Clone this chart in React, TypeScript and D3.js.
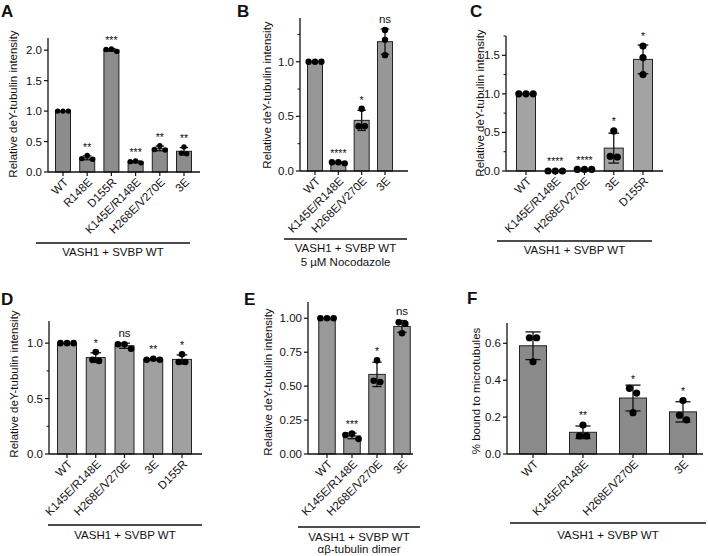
import React from "react";
import * as d3 from "d3";

// ---------- data ----------
const catsA = ["WT", "R148E", "D155R", "K145E/R148E", "H268E/V270E", "3E"];
const ptsA = [[1, 1, 1], [0.21, 0.27, 0.22], [1.98, 2.02, 2.01], [0.15, 0.17, 0.18], [0.36, 0.43, 0.37], [0.3, 0.41, 0.31]];
const sigA = ["", "**", "***", "***", "**", "**"];
const ticksA = [0, 0.5, 1, 1.5, 2];

const catsB = ["WT", "K145E/R148E", "H268E/V270E", "3E"];
const ptsB = [[1, 1, 1], [0.07, 0.08, 0.08], [0.41, 0.57, 0.41], [1.29, 1.2, 1.06]];
const sigB = ["", "****", "*", "ns"];
const ticksB = [0, 0.5, 1];
const minorB = [0.25, 0.75, 1.25];

const catsC = ["WT", "K145E/R148E", "H268E/V270E", "3E", "D155R"];
const ptsC = [[1, 1, 1], [0, 0, 0], [0.02, 0.02, 0.02], [0.52, 0.19, 0.18], [1.62, 1.47, 1.25]];
const sigC = ["", "****", "****", "*", "*"];
const ticksC = [0, 0.5, 1, 1.5];
const minorC = [0.25, 0.75, 1.25, 1.75];

const catsD = ["WT", "K145E/R148E", "H268E/V270E", "3E", "D155R"];
const ptsD = [[1, 1, 1], [0.92, 0.84, 0.85], [0.95, 0.99, 0.99], [0.85, 0.86, 0.85], [0.9, 0.83, 0.83]];
const sigD = ["", "*", "ns", "**", "*"];
const ticksD = [0, 0.5, 1];
const minorD = [0.25, 0.75];

const catsE = ["WT", "K145E/R148E", "H268E/V270E", "3E"];
const ptsE = [[1, 1, 1], [0.11, 0.14, 0.15], [0.69, 0.53, 0.54], [0.97, 0.96, 0.89]];
const sigE = ["", "***", "*", "ns"];
const ticksE = [0, 0.25, 0.5, 0.75, 1];

const catsF = ["WT", "K145E/R148E", "H268E/V270E", "3E"];
const ptsF = [[0.63, 0.63, 0.5], [0.157, 0.098, 0.098], [0.356, 0.33, 0.224], [0.29, 0.21, 0.185]];
const sigF = ["", "**", "*", "*"];
const ticksF = [0, 0.2, 0.4, 0.6];

const yTitle = "Relative deY-tubulin intensity";
const yTitleF = "% bound to microtubules";
const capMain = "VASH1 + SVBP WT";
const capB = "5 µM Nocodazole";
const capE = "αβ-tubulin dimer";

// ---------- layout ----------
type Cfg = {
  letter: string; lx: number; ly: number;
  cats: string[]; pts: number[][]; sig: string[];
  ticks: number[]; minor?: number[]; fmt: string; yMax: number;
  axisX: number; xEnd: number; y0: number; yTop: number; xRange: [number, number];
  barW: number; r: number; fill: string;
  title: string; tx: number; ty: number;
  brY: number; brX: [number, number]; caps: string[]; capY: number[];
};

const panels: Cfg[] = [
  { letter: "A", lx: 1, ly: 17, cats: catsA, pts: ptsA, sig: sigA, ticks: ticksA, fmt: ".1f", yMax: 2.2,
    axisX: 48, xEnd: 200, y0: 172, yTop: 38, xRange: [63, 184], barW: 15, r: 2.7, fill: "#8c8c8c",
    title: yTitle, tx: 17, ty: 104, brY: 243, brX: [36, 190], caps: [capMain], capY: [256] },
  { letter: "B", lx: 237, ly: 17, cats: catsB, pts: ptsB, sig: sigB, ticks: ticksB, minor: minorB, fmt: ".1f", yMax: 1.4,
    axisX: 300, xEnd: 408, y0: 171, yTop: 18, xRange: [315, 385], barW: 15, r: 3.2, fill: "#979797",
    title: yTitle, tx: 271, ty: 95, brY: 239, brX: [284, 407], caps: [capMain, capB], capY: [252, 266] },
  { letter: "C", lx: 470, ly: 17, cats: catsC, pts: ptsC, sig: sigC, ticks: ticksC, minor: minorC, fmt: ".1f", yMax: 1.75,
    axisX: 506, xEnd: 663, y0: 171, yTop: 36, xRange: [526, 643], barW: 19, r: 3.6, fill: "#a3a3a3",
    title: yTitle, tx: 484, ty: 103, brY: 241, brX: [497, 652], caps: [capMain], capY: [254] },
  { letter: "D", lx: 1, ly: 305, cats: catsD, pts: ptsD, sig: sigD, ticks: ticksD, minor: minorD, fmt: ".1f", yMax: 1.2,
    axisX: 49, xEnd: 202, y0: 454, yTop: 321, xRange: [67, 182], barW: 19, r: 3.3, fill: "#a0a0a0",
    title: yTitle, tx: 18, ty: 384, brY: 525, brX: [48, 202], caps: [capMain], capY: [539] },
  { letter: "E", lx: 244, ly: 305, cats: catsE, pts: ptsE, sig: sigE, ticks: ticksE, fmt: ".2f", yMax: 1.12,
    axisX: 308, xEnd: 413, y0: 454, yTop: 302, xRange: [327, 402], barW: 16.5, r: 3.3, fill: "#999999",
    title: yTitle, tx: 272, ty: 382, brY: 527, brX: [298, 420], caps: [capMain, capE], capY: [541, 553] },
  { letter: "F", lx: 467, ly: 304, cats: catsF, pts: ptsF, sig: sigF, ticks: ticksF, fmt: ".1f", yMax: 0.71,
    axisX: 507, xEnd: 703, y0: 454, yTop: 323, xRange: [533, 683], barW: 27, r: 3.6, fill: "#8a8a8a",
    title: yTitleF, tx: 480, ty: 391, brY: 523, brX: [510, 706], caps: [capMain], capY: [539] },
];

const FONT = "'Liberation Sans', Arial, sans-serif";

function swarm(vals: number[], y: d3.ScaleLinear<number, number>, r: number) {
  const idx = vals.map((v, i) => i).sort((a, b) => vals[b] - vals[a]);
  const clusters: number[][] = [];
  idx.forEach((i) => {
    const last = clusters[clusters.length - 1];
    if (last && Math.abs(y(vals[last[last.length - 1]]) - y(vals[i])) < 2 * r * 0.95) last.push(i);
    else clusters.push([i]);
  });
  const off = new Array(vals.length).fill(0);
  clusters.forEach((c) => {
    const n = c.length;
    if (n % 2 === 1) {
      const order = [0];
      for (let k = 1; k < n; k++) order.push(k % 2 === 1 ? -Math.ceil(k / 2) : Math.ceil(k / 2));
      c.forEach((i, k) => (off[i] = order[k] * 2 * r));
    } else {
      c.forEach((i, k) => (off[i] = (k - (n - 1) / 2) * 2 * r));
    }
  });
  return off;
}

function Panel({ c }: { c: Cfg }) {
  const y = d3.scaleLinear().domain([0, c.yMax]).range([c.y0, c.yTop]);
  const x = d3.scalePoint<string>().domain(c.cats).range(c.xRange);
  const fmt = d3.format(c.fmt);
  const stats = c.pts.map((p) => ({ mean: d3.mean(p) as number, sd: (d3.deviation(p) as number) || 0 }));
  const capX = (c.brX[0] + c.brX[1]) / 2;
  return (
    <g fontFamily={FONT} fill="#111">
      <text x={c.lx} y={c.ly} fontSize={17} fontWeight="bold">{c.letter}</text>
      {c.cats.map((cat, i) => {
        const cx = x(cat) as number;
        const h = c.y0 - y(stats[i].mean);
        return (
          <rect key={"b" + i} x={cx - c.barW / 2} y={y(stats[i].mean)} width={c.barW} height={Math.max(0, h)}
            fill={c.fill} stroke="#222" strokeWidth={1} />
        );
      })}
      {c.cats.map((cat, i) => {
        const cx = x(cat) as number;
        const { mean, sd } = stats[i];
        if (sd < 1e-6) return null;
        const cw = c.barW * 0.28;
        return (
          <g key={"e" + i} stroke="#111" strokeWidth={1.3}>
            <line x1={cx} x2={cx} y1={y(mean - sd)} y2={y(mean + sd)} />
            <line x1={cx - cw} x2={cx + cw} y1={y(mean + sd)} y2={y(mean + sd)} />
            <line x1={cx - cw} x2={cx + cw} y1={y(mean - sd)} y2={y(mean - sd)} />
          </g>
        );
      })}
      {c.cats.map((cat, i) => {
        const cx = x(cat) as number;
        const off = swarm(c.pts[i], y, c.r);
        return c.pts[i].map((v, j) => (
          <circle key={"p" + i + "-" + j} cx={cx + off[j]} cy={y(v)} r={c.r} fill="#000" />
        ));
      })}
      {c.cats.map((cat, i) => {
        if (!c.sig[i]) return null;
        const cx = x(cat) as number;
        const top = Math.min(y(stats[i].mean + stats[i].sd), y(d3.max(c.pts[i]) as number) - c.r, y(stats[i].mean));
        const isNs = c.sig[i] === "ns";
        return (
          <text key={"s" + i} x={cx} y={isNs ? top - 4 : top - 2} textAnchor="middle" fontSize={isNs ? 11.5 : 10.5}>
            {c.sig[i]}
          </text>
        );
      })}
      <line x1={c.axisX} x2={c.axisX} y1={c.y0} y2={c.yTop} stroke="#111" strokeWidth={1.3} />
      {c.ticks.map((t) => (
        <g key={"t" + t}>
          <line x1={c.axisX - 4} x2={c.axisX} y1={y(t)} y2={y(t)} stroke="#111" strokeWidth={1.2} />
          <text x={c.axisX - 6} y={y(t)} dy="0.35em" textAnchor="end" fontSize={11.5}>{fmt(t)}</text>
        </g>
      ))}
      {(c.minor || []).map((t) => (
        <line key={"m" + t} x1={c.axisX - 2.5} x2={c.axisX} y1={y(t)} y2={y(t)} stroke="#111" strokeWidth={1} />
      ))}
      <text transform={`translate(${c.tx},${c.ty}) rotate(-90)`} textAnchor="middle" fontSize={11.5}>{c.title}</text>
      <line x1={c.axisX} x2={c.xEnd} y1={c.y0} y2={c.y0} stroke="#111" strokeWidth={1.3} />
      {c.cats.map((cat) => {
        const cx = x(cat) as number;
        return (
          <g key={"x" + cat}>
            <line x1={cx} x2={cx} y1={c.y0} y2={c.y0 + 4} stroke="#111" strokeWidth={1.2} />
            <text transform={`translate(${cx + 3},${c.y0 + 8}) rotate(-45)`} textAnchor="end" dy="0.35em" fontSize={11.5}>
              {cat}
            </text>
          </g>
        );
      })}
      <line x1={c.brX[0]} x2={c.brX[1]} y1={c.brY} y2={c.brY} stroke="#111" strokeWidth={1.3} />
      {c.caps.map((t, k) => (
        <text key={"c" + k} x={capX} y={c.capY[k]} textAnchor="middle" fontSize={11.5}>{t}</text>
      ))}
    </g>
  );
}

export default function App() {
  return (
    <svg width={708} height={556} style={{ position: "absolute", left: 0, top: 0, background: "#fff" }}>
      <rect width={708} height={556} fill="#fff" />
      {panels.map((p) => (
        <Panel key={p.letter} c={p} />
      ))}
    </svg>
  );
}
